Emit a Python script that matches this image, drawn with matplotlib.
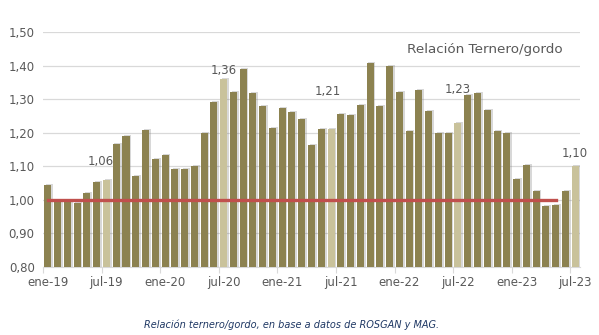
import numpy as np
import matplotlib.pyplot as plt
from matplotlib.ticker import FuncFormatter

# relacion ternero/gordo, mensual ene-19 .. jul-23
ratio = [1.045, 1.00, 0.995, 0.99, 1.02, 1.053, 1.06, 1.167, 1.19, 1.07,
         1.209, 1.12, 1.132, 1.093, 1.092, 1.10, 1.20, 1.293, 1.36, 1.32,
         1.39, 1.317, 1.28, 1.214, 1.273, 1.263, 1.24, 1.164, 1.211, 1.21,
         1.257, 1.254, 1.284, 1.408, 1.28, 1.40, 1.32, 1.206, 1.327, 1.264,
         1.198, 1.198, 1.23, 1.313, 1.318, 1.269, 1.206, 1.199, 1.062, 1.104,
         1.027, 0.98, 0.985, 1.025, 1.10]
highlight = [6, 18, 29, 42, 54]
base_line = [1.0] * 53
tick_labels = ["ene-19", "jul-19", "ene-20", "jul-20", "ene-21", "jul-21",
               "ene-22", "jul-22", "ene-23", "jul-23"]

dark = "#8C8250"
light = "#C9C29B"
gray = "#595959"

x = np.arange(len(ratio))
colors = [light if i in highlight else dark for i in x]

fig = plt.figure(figsize=(5.99, 3.35), dpi=100)
ax = fig.add_axes([0.0718, 0.204, 0.8965, 0.700])

# sombra de las barras
ax.bar(x + 0.18, np.array(ratio) - 0.8 + 0.003, bottom=0.8, width=0.72,
       color="#808080", alpha=0.3, zorder=2, linewidth=0)
ax.bar(x, np.array(ratio) - 0.8, bottom=0.8, width=0.72, color=colors,
       zorder=3, linewidth=0)
ax.plot(np.arange(len(base_line)), base_line, color="#C0504D", lw=2.4, zorder=4)

# desplazamiento de las etiquetas (puntos)
offs = [(-4, 13), (0, 6), (-2, 27), (0, 24), (0, 9)]
for i, (dx, dy) in zip(highlight, offs):
    ax.annotate(f"{ratio[i]:.2f}".replace(".", ","), (i, ratio[i]),
                xytext=(dx, dy), textcoords="offset points",
                ha="center", va="center", fontsize=8.5, color=gray, zorder=5)

ax.set_ylim(0.8, 1.5)
ax.set_xlim(-0.5, len(ratio) - 0.5)
ax.set_yticks(np.arange(0.8, 1.51, 0.1))
ax.yaxis.set_major_formatter(FuncFormatter(lambda v, p: f"{v:.2f}".replace(".", ",")))
ax.grid(axis="y", color="#d9d9d9", lw=0.9, zorder=0)
ax.set_axisbelow(True)

ax.set_xticks(np.arange(0, len(ratio), 6) - 0.5)
ax.set_xticklabels([])
ax.set_xticks(np.arange(0, len(ratio), 6), minor=True)
ax.set_xticklabels(tick_labels, minor=True)
ax.tick_params(axis="x", which="major", length=4, color="#d9d9d9")
ax.tick_params(axis="x", which="minor", length=0, pad=7, labelsize=8.5, labelcolor=gray)
ax.tick_params(axis="y", length=0, pad=6, labelsize=8.5, labelcolor=gray)

for s in ["top", "right", "left"]:
    ax.spines[s].set_visible(False)
ax.spines["bottom"].set_color("#d9d9d9")

fig.text(0.809, 0.853, "Relación Ternero/gordo", ha="center", va="center",
         fontsize=9.7, color=gray)
fig.text(0.486, 0.030, "Relación ternero/gordo, en base a datos de ROSGAN y MAG.",
         ha="center", va="center", fontsize=7, style="italic", color="#1F3864")

fig.savefig("out.png", dpi=100)
